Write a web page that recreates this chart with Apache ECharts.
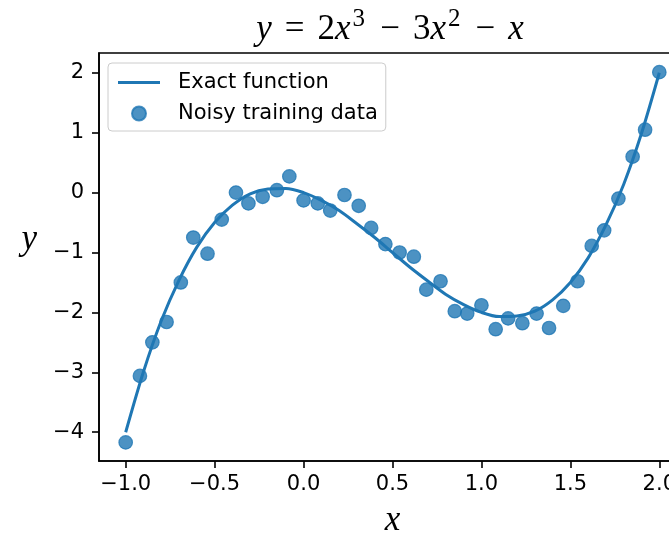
<!DOCTYPE html>
<html>
<head>
<meta charset="utf-8">
<script src="https://cdn.jsdelivr.net/npm/echarts@6/dist/echarts.min.js"></script>
<style>
html,body{margin:0;padding:0;background:#fff;}
#chart{width:669px;height:533px;}
</style>
</head>
<body>
<div id="chart"></div>
<script>
// Curve values
const curveX = [-1.0,-0.9,-0.8,-0.7,-0.6,-0.5,-0.4,-0.3,-0.2,-0.1,0.0,0.1,0.2,0.3,0.4,0.5,0.6,0.7,0.8,0.9,1.0,1.1,1.2,1.3,1.4,1.5,1.6,1.7,1.8,1.9,2.0];
const curveY = [-4.00,-2.99,-2.14,-1.46,-0.91,-0.50,-0.21,-0.02,0.06,0.07,0.00,-0.13,-0.30,-0.52,-0.75,-1.00,-1.25,-1.48,-1.70,-1.87,-2.00,-2.07,-2.06,-1.98,-1.79,-1.50,-1.09,-0.54,0.14,0.99,2.00];
// Noisy points
const noisyX = [-1.00,-0.92,-0.85,-0.77,-0.69,-0.62,-0.54,-0.46,-0.38,-0.31,-0.23,-0.15,-0.08,0.00,0.08,0.15,0.23,0.31,0.38,0.46,0.54,0.62,0.69,0.77,0.85,0.92,1.00,1.08,1.15,1.23,1.31,1.38,1.46,1.54,1.62,1.69,1.77,1.85,1.92,2.00];
const noisyY = [-4.17,-3.06,-2.50,-2.16,-1.50,-0.75,-1.02,-0.45,0.00,-0.18,-0.07,0.04,0.27,-0.13,-0.18,-0.30,-0.04,-0.22,-0.59,-0.86,-1.00,-1.07,-1.62,-1.48,-1.98,-2.02,-1.88,-2.28,-2.10,-2.18,-2.02,-2.26,-1.89,-1.48,-0.89,-0.63,-0.10,0.60,1.05,2.01];
// Tick values
const xTicks = [-1.0,-0.5,0.0,0.5,1.0,1.5,2.0];
const yTicks = [-4,-3,-2,-1,0,1,2];
const seriesNames = ['Exact function','Noisy training data'];

const lineData = curveX.map((x,i)=>[x,curveY[i]]);
const scatterData = noisyX.map((x,i)=>[x,noisyY[i]]);

const C = '#1f77b4';
const serif = 'Liberation Serif';
const sans = 'DejaVu Sans';
const minus = s => String(s).replace('-', '\u2212');

const chart = echarts.init(document.getElementById('chart'), null, {renderer:'canvas'});
chart.setOption({
  animation:false,
  backgroundColor:'#fff',
  title:{
    left:390, top:7, textAlign:'center', padding:0,
    text:'{v|y}{o|\u2009=\u2009}{n|2}{v|x}{s|3}{o|\u2009\u2212\u2009}{n|3}{v|x}{s|2}{o|\u2009\u2212\u2009}{v|x}',
    textStyle:{
      fontWeight:'normal',
      rich:{
        v:{fontFamily:serif,fontStyle:'italic',fontWeight:'normal',fontSize:35,lineHeight:46,color:'#000'},
        n:{fontFamily:serif,fontWeight:'normal',fontSize:35,lineHeight:46,color:'#000'},
        o:{fontFamily:serif,fontWeight:'normal',fontSize:35,lineHeight:46,color:'#000',padding:[0,6,0,6]},
        s:{fontFamily:serif,fontWeight:'normal',fontSize:25,lineHeight:25,verticalAlign:'top',color:'#000',padding:[0,2,0,2]}
      }
    }
  },
  legend:{
    orient:'vertical', left:108, top:63,
    padding:[9,8,7,10],
    itemWidth:42, itemHeight:14, itemGap:10,
    backgroundColor:'rgba(255,255,255,0.8)',
    borderColor:'#cccccc', borderWidth:1, borderRadius:4,
    textStyle:{fontFamily:sans,fontSize:21,lineHeight:21,color:'#000',padding:[0,0,0,13]},
    data:[
      {name:seriesNames[0], icon:'path://M0,0L42,0L42,3L0,3Z'},
      {name:seriesNames[1], icon:'circle'}
    ]
  },
  grid:{left:99, top:53, width:587, height:408, show:true, borderColor:'#000', borderWidth:1.6, containLabel:false, outerBoundsMode:'none'},
  xAxis:{
    type:'value', min:-1.15, max:2.15,
    name:'x', nameLocation:'middle', nameGap:42, nameMoveOverlap:false,
    nameTextStyle:{fontFamily:serif,fontStyle:'italic',fontSize:35,color:'#000'},
    axisLine:{show:true,onZero:false,lineStyle:{color:'#000',width:1.6}},
    axisTick:{show:true,length:7,lineStyle:{color:'#000',width:1.6},customValues:xTicks},
    axisLabel:{margin:13,fontFamily:sans,fontSize:21,color:'#000',customValues:xTicks,formatter:v=>minus(v.toFixed(1))},
    splitLine:{show:false}
  },
  yAxis:{
    type:'value', min:-4.48, max:2.33,
    name:'y', nameLocation:'middle', nameRotate:0, nameGap:62, nameMoveOverlap:false,
    nameTextStyle:{fontFamily:serif,fontStyle:'italic',fontSize:35,color:'#000',verticalAlign:'bottom'},
    axisLine:{show:true,onZero:false,lineStyle:{color:'#000',width:1.6}},
    axisTick:{show:true,length:7,lineStyle:{color:'#000',width:1.6},customValues:yTicks},
    axisLabel:{margin:15,fontFamily:sans,fontSize:21,color:'#000',customValues:yTicks,formatter:v=>minus(v)},
    splitLine:{show:false}
  },
  series:[
    {name:seriesNames[0], type:'line', data:lineData, smooth:0.3, showSymbol:false,
     lineStyle:{color:C,width:3}, itemStyle:{color:C}, clip:true},
    {name:seriesNames[1], type:'scatter', data:scatterData, symbolSize:13.5,
     itemStyle:{color:'rgba(31,119,180,0.8)',borderColor:'rgba(31,119,180,0.8)',borderWidth:1.2,opacity:1}, clip:true}
  ]
});
</script>
</body>
</html>
